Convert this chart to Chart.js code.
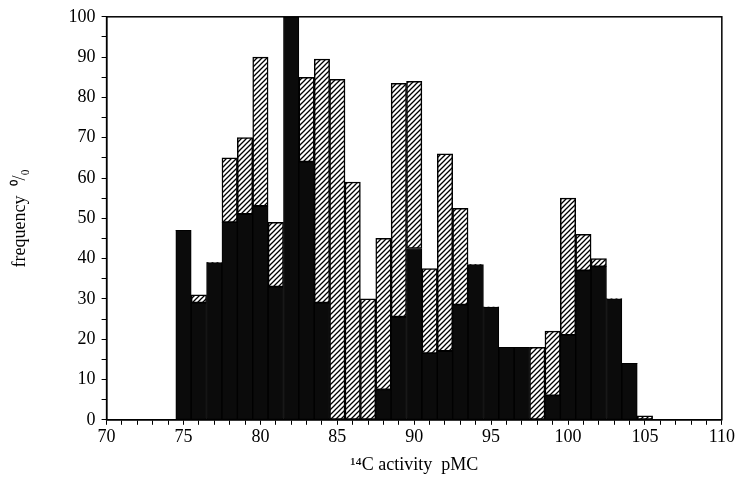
<!DOCTYPE html>
<html>
<head>
<meta charset="utf-8">
<script src="https://cdn.jsdelivr.net/npm/chart.js@4/dist/chart.umd.min.js"></script>
<style>
  html, body { margin: 0; padding: 0; background: #fff; }
  #wrap { width: 737px; height: 487px; }
</style>
</head>
<body>
<div id="wrap"><canvas id="chart" width="737" height="487"></canvas></div>
<script>
// Clases de actividad 14C (pMC), una barra por unidad
const pmc = [75, 76, 77, 78, 79, 80, 81, 82, 83, 84, 85, 86, 87, 88, 89, 90,
             91, 92, 93, 94, 95, 96, 97, 98, 99, 100, 101, 102, 103, 104, 105];
// Parte negra (inferior) de cada barra, en %
const blackValues = [47, 29, 39, 49, 51, 53, 33, 100, 64, 29, 0, 0, 0, 7.5, 25.5, 42.5,
                     16.5, 17, 28.5, 38.5, 28, 18, 18, 0, 6, 21, 37, 38, 30, 14, 0];
// Parte rayada apilada encima, en %
const hatchValues = [0, 2, 0, 16, 19, 37, 16, 0, 21, 60.5, 84.5, 59, 30, 37.5, 58, 41.5,
                     21, 49, 24, 0, 0, 0, 0, 18, 16, 34, 9, 2, 0, 0, 1];

const xMin = 70, xMax = 110;
const yMin = 0, yMax = 100;

// Patrón de rayas diagonales
function makeHatch() {
    const s = 5;
    const c = document.createElement('canvas');
    c.width = s; c.height = s;
    const g = c.getContext('2d');
    g.fillStyle = '#fff';
    g.fillRect(0, 0, s, s);
    g.strokeStyle = '#000';
    g.lineWidth = 1.3;
    g.beginPath();
    g.moveTo(-1, s + 1); g.lineTo(s + 1, -1);
    g.moveTo(-1, 1); g.lineTo(1, -1);
    g.moveTo(s - 1, s + 1); g.lineTo(s + 1, s - 1);
    g.stroke();
    return g.createPattern(c, 'repeat');
}

// Marco completo alrededor del área de datos
const framePlugin = {
    id: 'frame',
    afterDraw(chart) {
        const { ctx, chartArea: a } = chart;
        ctx.save();
        ctx.strokeStyle = '#000';
        ctx.lineWidth = 1.5;
        ctx.strokeRect(a.left, a.top, a.right - a.left, a.bottom - a.top);
        ctx.restore();
    }
};

const font = { family: '"Liberation Serif", "Times New Roman", serif', size: 18 };

new Chart(document.getElementById('chart'), {
    type: 'bar',
    data: {
        datasets: [
            {
                label: 'black',
                data: pmc.map((x, i) => ({ x: x, y: blackValues[i] })),
                backgroundColor: '#0b0b0b',
                borderColor: '#000',
                borderWidth: ctx => (ctx.raw && ctx.raw.y ? 1 : 0),
                borderSkipped: false,
                barPercentage: 1,
                categoryPercentage: 1
            },
            {
                label: 'hatched',
                data: pmc.map((x, i) => ({ x: x, y: hatchValues[i] })),
                backgroundColor: makeHatch(),
                borderColor: '#000',
                borderWidth: ctx => (ctx.raw && ctx.raw.y ? 1.5 : 0),
                borderSkipped: false,
                barPercentage: 1,
                categoryPercentage: 1
            }
        ]
    },
    options: {
        responsive: false,
        devicePixelRatio: 1,
        animation: false,
        layout: { padding: { left: 9, right: 4, top: 8, bottom: 11 } },
        plugins: {
            legend: { display: false },
            tooltip: { enabled: false }
        },
        scales: {
            x: {
                type: 'linear',
                stacked: true,
                offset: false,
                min: xMin,
                max: xMax,
                border: { color: '#000', width: 1.5 },
                grid: { offset: false, drawOnChartArea: false, drawTicks: true, tickLength: 5, color: '#000' },
                ticks: {
                    stepSize: 1,
                    autoSkip: false,
                    maxRotation: 0,
                    color: '#000',
                    font: font,
                    padding: 2,
                    callback: v => (v % 5 === 0 ? String(v) : '')
                },
                title: {
                    display: true,
                    text: '¹⁴C activity  pMC',
                    color: '#000',
                    font: { family: font.family, size: 18 },
                    padding: { top: 4, bottom: 0 }
                }
            },
            y: {
                stacked: true,
                min: yMin,
                max: yMax,
                border: { color: '#000', width: 1.5 },
                grid: { drawOnChartArea: false, drawTicks: true, tickLength: 5, color: '#000' },
                ticks: {
                    stepSize: 5,
                    autoSkip: false,
                    color: '#000',
                    font: font,
                    padding: 6,
                    callback: v => (v % 10 === 0 ? String(v) : '')
                },
                title: {
                    display: true,
                    text: 'frequency  ⁰/₀',
                    color: '#000',
                    font: { family: font.family, size: 18 },
                    padding: { top: 0, bottom: 32 }
                }
            }
        }
    },
    plugins: [framePlugin]
});
</script>
</body>
</html>
